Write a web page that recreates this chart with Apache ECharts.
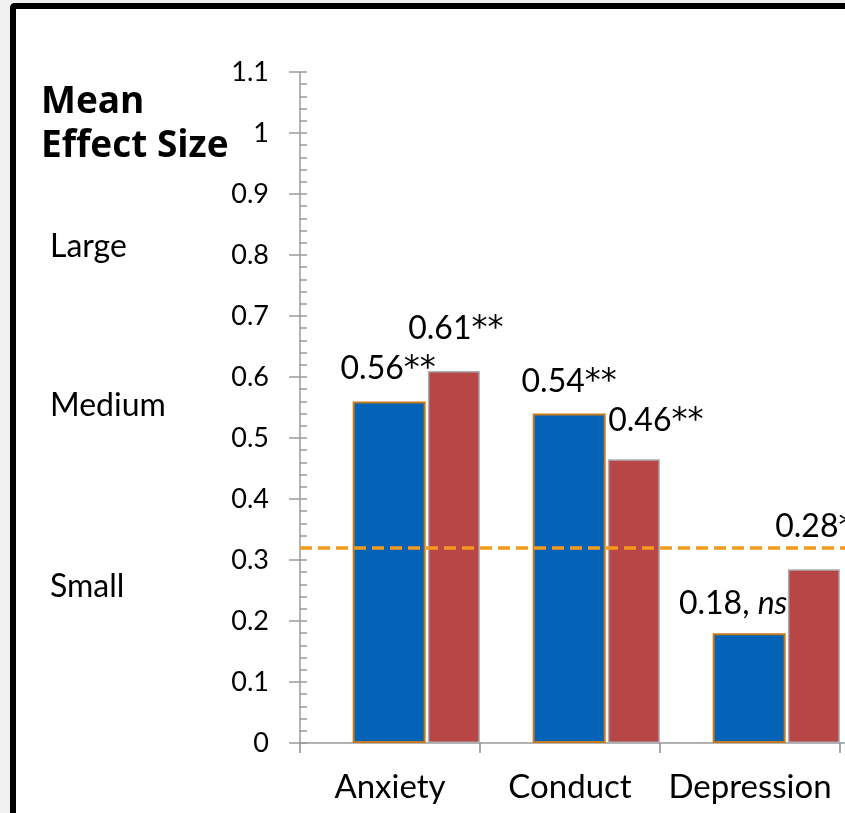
<!DOCTYPE html>
<html>
<head>
<meta charset="utf-8">
<script src="https://cdn.jsdelivr.net/npm/echarts@6/dist/echarts.min.js"></script>
<style>
  html, body { margin: 0; padding: 0; width: 845px; height: 813px; overflow: hidden; background: #f0f0f0; }
  #frame { position: absolute; left: 10px; top: 3px; width: 1100px; height: 1000px; border-left: 6px solid #000; border-top: 6px solid #000; border-top-left-radius: 5px; background: #fff; }
  #chart { position: absolute; left: 0; top: 0; width: 1040px; height: 813px; }
</style>
</head>
<body>
<div id="frame"></div>
<div id="chart"></div>
<script>
// ---- data ----
const categories = ['Anxiety', 'Conduct', 'Depression'];
const seriesA = [0.56, 0.54, 0.18];          // blue bars
const seriesB = [0.61, 0.465, 0.285];        // red bars
const labelsA = ['0.56**', '0.54**', '0.18, ns'];
const labelsB = ['0.61**', '0.46**', '0.28**'];
const threshold = 0.32;                       // dashed "small" effect line
const yTicks = { min: 0, max: 1.1, interval: 0.1 };
const sideLabels = ['Large', 'Medium', 'Small'];

// ---- label placement (style, kept apart from data) ----
const offA = [[-1, -17], [0, -16], [-16, -14]];
const offB = [[2, -26], [22, -23], [9, -26]];

const FONT = 'Lato';
const axisCats = categories.concat(['']); // chart continues past the crop

function fmt(t) {
  if (t.indexOf(', ns') >= 0) return '{n|' + t.replace('ns', '') + '}{i|ns}';
  const m = t.match(/^([^*]*)(\**)$/);
  return '{n|' + m[1] + '}{s|' + m[2] + '}';
}
function mkLabels(vals, texts, offs) {
  return vals.map((v, i) => ({
    value: v,
    label: { show: true, position: 'top', distance: 0, offset: offs[i], formatter: fmt(texts[i]) }
  }));
}

const chart = echarts.init(document.getElementById('chart'), null, { renderer: 'canvas' });
const labelStyle = {
  fontFamily: FONT, fontSize: 32, color: '#000',
  rich: {
    n: { fontFamily: FONT, fontSize: 32, color: '#000' },
    i: { fontFamily: FONT, fontSize: 32, color: '#000', fontStyle: 'italic' },
    s: { fontFamily: 'DejaVu Sans', fontSize: 32, color: '#000' }
  }
};

chart.setOption({
  animation: false,
  grid: { left: 300, top: 72, width: 720, height: 671, containLabel: false },
  xAxis: {
    type: 'category', data: axisCats,
    axisLine: { lineStyle: { color: '#9a9a9a', width: 1.5 } },
    axisTick: { show: true, alignWithLabel: false, length: 10, lineStyle: { color: '#8a8a8a', width: 1.5 } },
    axisLabel: { fontFamily: FONT, fontSize: 33, color: '#000', margin: 28, interval: 0 }
  },
  yAxis: [{
    type: 'value', min: yTicks.min, max: yTicks.max, interval: yTicks.interval,
    axisLine: { show: true, lineStyle: { color: '#9a9a9a', width: 1.5 } },
    axisTick: { show: true, inside: true, length: 7, lineStyle: { color: '#9a9a9a', width: 1.5 } },
    minorTick: { show: true, splitNumber: 5, length: 7, lineStyle: { color: '#9a9a9a', width: 1.5 } },
    splitLine: { show: false },
    axisLabel: { fontFamily: FONT, fontSize: 27, color: '#000', margin: 31 }
  }, {
    type: 'value', position: 'left', min: yTicks.min, max: yTicks.max, interval: yTicks.interval,
    axisLine: { show: false },
    axisTick: { show: true, inside: false, length: 11, lineStyle: { color: '#9a9a9a', width: 1.5 } },
    splitLine: { show: false },
    axisLabel: { show: false }
  }],
  series: [
    { type: 'bar', name: 'pad', data: axisCats.map(() => '-'), barWidth: 51, barGap: '3%', silent: true },
    {
      type: 'bar', name: 'A', barWidth: 73, barGap: '3%',
      data: mkLabels(seriesA, labelsA, offA),
      itemStyle: { color: '#0563b7', borderColor: '#c47a1c', borderWidth: 2 },
      label: labelStyle
    },
    {
      type: 'bar', name: 'B', barWidth: 52, barGap: '3%',
      data: mkLabels(seriesB, labelsB, offB),
      itemStyle: { color: '#b84646', borderColor: '#a9b0b2', borderWidth: 1.5 },
      label: labelStyle,
      markLine: {
        silent: true, symbol: ['none', 'none'], label: { show: false },
        lineStyle: { color: '#f39a1e', width: 3.5, type: [12, 6] },
        data: [{ yAxis: threshold }]
      }
    }
  ],
  graphic: [
    { type: 'text', left: 41, top: 84, style: { text: 'Mean', font: 'bold 37px "Open Sans"', fill: '#000' } },
    { type: 'text', left: 41, top: 128, style: { text: 'Effect Size', font: 'bold 37px "Open Sans"', fill: '#000' } },
    { type: 'text', left: 50, top: 231, style: { text: sideLabels[0], font: '32px Lato', fill: '#000' } },
    { type: 'text', left: 50, top: 390, style: { text: sideLabels[1], font: '32px Lato', fill: '#000' } },
    { type: 'text', left: 50, top: 571, style: { text: sideLabels[2], font: '32px Lato', fill: '#000' } }
  ]
});
</script>
</body>
</html>
